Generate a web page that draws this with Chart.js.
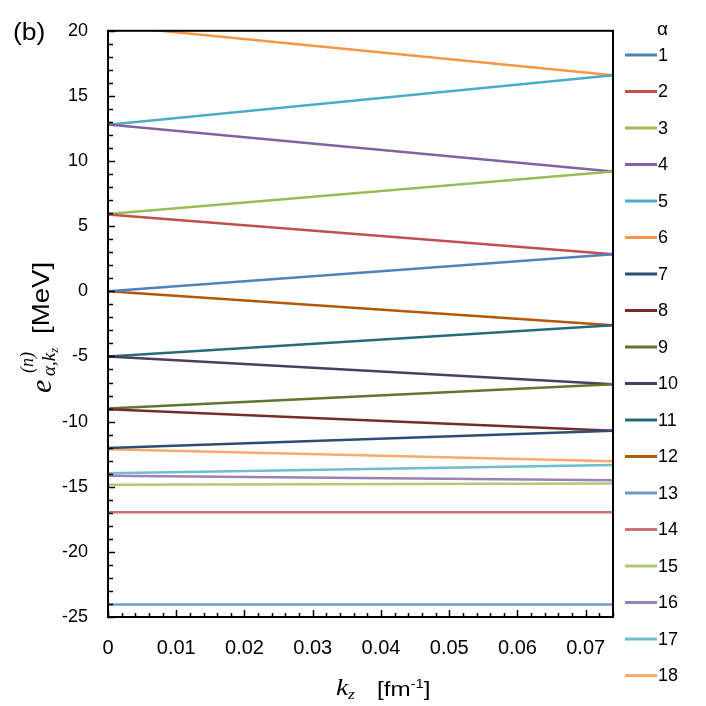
<!DOCTYPE html>
<html>
<head>
<meta charset="utf-8">
<script src="https://cdn.jsdelivr.net/npm/chart.js@4/dist/chart.umd.min.js"></script>
<style>
  html, body { margin: 0; padding: 0; background: #fff; }
  #wrap { width: 706px; height: 706px; }
</style>
</head>
<body>
<div id="wrap"><canvas id="levelsChart" width="706" height="706"></canvas></div>
<script>
// kz range and levels at both ends (MeV)
const kzEnds = [0, 0.074];
const alphaLabels = ['1', '2', '3', '4', '5', '6', '7', '8', '9', '10', '11', '12', '13', '14', '15', '16', '17', '18'];
const eAtZero = [0, 5.9, 5.93, 12.8, 12.79, 20.4, -12.02, -9.05, -9.0, -5.0, -5.0, 0, -24.05, -16.95, -14.84, -14.16, -13.96, -12.12];
const eAtEdge = [2.84, 2.84, 9.2, 9.2, 16.58, 16.58, -10.7, -10.7, -7.13, -7.13, -2.6, -2.6, -24.05, -16.95, -14.76, -14.5, -13.34, -13.05];
const lineColors = ['#4F81BD', '#C0504D', '#9BBB59', '#8064A2', '#4BACC6', '#F79646',
                    '#2C4D75', '#772C2A', '#5F7530', '#4D3B62', '#276A7C', '#B65708',
                    '#729ACA', '#CD7371', '#AFC97A', '#9983B5', '#6FBDD1', '#F9AB6B'];
const yTicks = { min: -25, max: 20, step: 5, minor: 1 };
const xTicks = { min: 0, max: 0.074, step: 0.01, minor: 0.002 };

const SANS = '"Liberation Sans", Arial, sans-serif';
const SERIF = '"Liberation Serif", "DejaVu Serif", serif';

const datasets = alphaLabels.map(function (lab, i) {
    return {
        label: lab,
        data: kzEnds.map(function (kz, j) { return { x: kz, y: j === 0 ? eAtZero[i] : eAtEdge[i] }; }),
        borderColor: lineColors[i],
        backgroundColor: lineColors[i],
        borderWidth: 2.5,
        pointRadius: 0,
        fill: false,
        tension: 0
    };
});

// frame + inside tick marks
const framePlugin = {
    id: 'frame',
    afterDatasetsDraw: function (chart) {
        const ctx = chart.ctx, a = chart.chartArea;
        const xs = chart.scales.x, ys = chart.scales.y;
        ctx.save();
        ctx.strokeStyle = '#000';
        ctx.lineWidth = 1.5;
        ctx.beginPath();
        for (let v = yTicks.min; v <= yTicks.max + 1e-9; v += yTicks.minor) {
            const py = Math.round(ys.getPixelForValue(v)) + 0.5;
            const len = (Math.abs(v % yTicks.step) < 1e-9) ? 7 : 5;
            ctx.moveTo(a.left, py); ctx.lineTo(a.left + len, py);
        }
        for (let k = 0; k * xTicks.minor <= xTicks.max + 1e-9; k++) {
            const v = k * xTicks.minor;
            const px = Math.round(xs.getPixelForValue(v)) + 0.5;
            const len = (k % 5 === 0) ? 7 : 4;
            ctx.moveTo(px, a.bottom); ctx.lineTo(px, a.bottom - len);
        }
        ctx.stroke();
        ctx.lineWidth = 2;
        ctx.strokeRect(a.left, a.top, a.right - a.left, a.bottom - a.top);
        ctx.restore();
    }
};

// legend on the right, titled alpha
const legendPlugin = {
    id: 'alphaLegend',
    afterDraw: function (chart) {
        const ctx = chart.ctx;
        ctx.save();
        ctx.fillStyle = '#000';
        ctx.font = '19px ' + SANS;
        ctx.textBaseline = 'alphabetic';
        ctx.textAlign = 'left';
        ctx.fillText('α', 657, 35);
        ctx.font = '18px ' + SANS;
        ctx.textBaseline = 'middle';
        chart.data.datasets.forEach(function (ds, i) {
            const y = 55 + i * 36.5;
            ctx.strokeStyle = ds.borderColor;
            ctx.lineWidth = 3;
            ctx.beginPath();
            ctx.moveTo(625, y); ctx.lineTo(657, y);
            ctx.stroke();
            ctx.fillText(ds.label, 658, y + 1);
        });
        ctx.restore();
    }
};

// axis titles and panel tag (text a bit wider than tall, like the original)
const labelsPlugin = {
    id: 'axisTitles',
    afterDraw: function (chart) {
        const ctx = chart.ctx;
        ctx.save();
        ctx.fillStyle = '#000';
        ctx.textAlign = 'left';
        ctx.textBaseline = 'alphabetic';

        ctx.save();
        ctx.translate(13, 40);
        ctx.scale(1.15, 1);
        ctx.font = '23px ' + SANS;
        ctx.fillText('(b)', 0, 0);
        ctx.restore();

        // x title: k_z  [fm^-1]
        ctx.save();
        ctx.translate(336, 695);
        ctx.scale(1.15, 1);
        ctx.font = 'italic 24px ' + SERIF;
        ctx.fillText('k', 0, 0);
        ctx.font = 'italic 15px ' + SERIF;
        ctx.fillText('z', 10.5, 4);
        ctx.restore();

        ctx.save();
        ctx.translate(377, 696);
        ctx.scale(1.15, 1);
        ctx.font = '21px ' + SANS;
        ctx.fillText('[fm', 0, 0);
        let w = ctx.measureText('[fm').width;
        ctx.font = '13px ' + SANS;
        ctx.fillText('-1', w, -8);
        let w2 = ctx.measureText('-1').width;
        ctx.font = '21px ' + SANS;
        ctx.fillText(']', w + w2, 0);
        ctx.restore();

        // y title, rotated
        ctx.translate(51, 393);
        ctx.rotate(-Math.PI / 2);
        ctx.font = 'italic 30px ' + SERIF;
        ctx.fillText('e', 0, 0);
        ctx.font = 'italic 18px ' + SERIF;
        ctx.fillText('(n)', 20, -18);
        ctx.font = 'italic 19px ' + SERIF;
        ctx.fillText('α,k', 17, 4);
        w = ctx.measureText('α,k').width;
        ctx.font = 'italic 13px ' + SERIF;
        ctx.fillText('z', 17 + w, 7);
        ctx.save();
        ctx.translate(59, -2);
        ctx.scale(1.15, 1);
        ctx.font = '24px ' + SANS;
        ctx.fillText('[MeV]', 0, 0);
        ctx.restore();
        ctx.restore();
    }
};

const ctx = document.getElementById('levelsChart').getContext('2d');
new Chart(ctx, {
    type: 'line',
    data: { datasets: datasets },
    options: {
        responsive: false,
        animation: false,
        layout: { padding: { left: 0, right: 93, top: 20, bottom: 0 } },
        plugins: { legend: { display: false }, tooltip: { enabled: false } },
        scales: {
            x: {
                type: 'linear',
                min: xTicks.min,
                max: xTicks.max,
                afterFit: function (s) { s.height = 89; },
                grid: { display: false, drawTicks: false },
                border: { display: false },
                ticks: {
                    stepSize: xTicks.step,
                    includeBounds: false,
                    padding: 19,
                    color: '#000',
                    font: { family: SANS, size: 20 },
                    maxRotation: 0,
                    callback: function (v) { return String(+v.toFixed(2)); }
                }
            },
            y: {
                min: yTicks.min,
                max: yTicks.max,
                afterFit: function (s) { s.width = 108; },
                grid: { display: false, drawTicks: false },
                border: { display: false },
                ticks: {
                    stepSize: yTicks.step,
                    padding: 20,
                    color: '#000',
                    font: { family: SANS, size: 18 }
                }
            }
        }
    },
    plugins: [framePlugin, legendPlugin, labelsPlugin]
});
</script>
</body>
</html>
